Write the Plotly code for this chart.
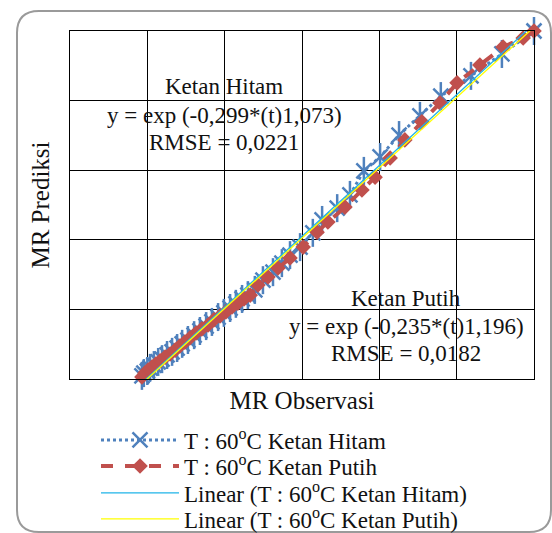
import numpy as np
import plotly.graph_objects as go

# Observed vs predicted moisture ratio (MR), drying at 60 °C
obs_hitam = [1.000, 0.917, 0.837, 0.759, 0.705, 0.651, 0.602, 0.560, 0.524, 0.491,
             0.452, 0.428, 0.395, 0.369, 0.348, 0.325, 0.299, 0.278, 0.260, 0.245,
             0.229, 0.214, 0.198, 0.183, 0.167, 0.152, 0.136, 0.121, 0.105, 0.090,
             0.077, 0.064, 0.051, 0.038, 0.028, 0.017, 0.007, 0.000, -0.009, -0.014]
pred_hitam = [1.000, 0.934, 0.871, 0.813, 0.756, 0.701, 0.638, 0.598, 0.529, 0.491,
              0.457, 0.420, 0.379, 0.356, 0.333, 0.307, 0.284, 0.256, 0.241, 0.230,
              0.216, 0.204, 0.190, 0.178, 0.164, 0.152, 0.138, 0.126, 0.112, 0.101,
              0.089, 0.078, 0.069, 0.057, 0.049, 0.040, 0.032, 0.023, 0.017, 0.009]

obs_putih = [1.000, 0.972, 0.920, 0.860, 0.801, 0.757, 0.710, 0.666, 0.628, 0.589,
             0.555, 0.511, 0.467, 0.439, 0.403, 0.369, 0.338, 0.312, 0.286, 0.266,
             0.250, 0.234, 0.219, 0.203, 0.188, 0.172, 0.157, 0.141, 0.126, 0.110,
             0.097, 0.084, 0.072, 0.059, 0.046, 0.033, 0.022, 0.012, 0.002, -0.006, -0.014]
pred_putih = [1.000, 0.980, 0.954, 0.902, 0.851, 0.793, 0.739, 0.687, 0.635, 0.580,
              0.543, 0.494, 0.451, 0.422, 0.379, 0.348, 0.319, 0.293, 0.270, 0.241,
              0.230, 0.218, 0.207, 0.193, 0.181, 0.170, 0.155, 0.144, 0.132, 0.118,
              0.106, 0.095, 0.083, 0.072, 0.063, 0.052, 0.043, 0.034, 0.026, 0.017, 0.006]

name_hitam = "T : 60<sup>o</sup>C Ketan Hitam"
name_putih = "T : 60<sup>o</sup>C Ketan Putih"
model_hitam = ["Ketan Hitam", "y = exp (-0,299*(t)1,073)", "RMSE = 0,0221"]
model_putih = ["Ketan Putih", "y = exp (-0,235*(t)1,196)", "RMSE = 0,0182"]

W, H = 552, 533
L, R, T, B = 70, 534, 31, 379
FONT = "Liberation Serif"
BLUE = "#4F81BD"
RED = "#C0504D"
TXT = 23


def px(x):
    return (x - L) / (R - L)


def py(y):
    return (B - y) / (B - T)


fig = go.Figure()

# Ketan Hitam: dotted line with star markers (X plus vertical bar)
fig.add_trace(go.Scatter(
    x=obs_hitam, y=pred_hitam, mode="lines+markers", name=name_hitam,
    legend="legend", cliponaxis=False,
    line=dict(color=BLUE, width=3, dash="dot"),
    marker=dict(symbol="x-thin-open", size=15, color=BLUE,
                line=dict(color=BLUE, width=2.5)),
))
fig.add_trace(go.Scatter(
    x=obs_hitam, y=pred_hitam, mode="markers", showlegend=False,
    cliponaxis=False, hoverinfo="skip",
    marker=dict(symbol="line-ns-open", size=20, color=BLUE,
                line=dict(color=BLUE, width=2.5)),
))

# Ketan Putih: dashed line with diamond markers
fig.add_trace(go.Scatter(
    x=obs_putih, y=pred_putih, mode="lines+markers", name=name_putih,
    legend="legend2", cliponaxis=False,
    line=dict(color=RED, width=4, dash="dash"),
    marker=dict(symbol="diamond", size=12, color=RED),
))

# Linear trendlines fitted to each series
for obs, pred, color, label, lg in [
    (obs_hitam, pred_hitam, "#1FB4E8", "Linear (" + name_hitam + ")", "legend3"),
    (obs_putih, pred_putih, "#FFFF00", "Linear (" + name_putih + ")", "legend4"),
]:
    slope, icpt = np.polyfit(obs, pred, 1)
    xs = np.array([min(obs), max(obs)])
    fig.add_trace(go.Scatter(
        x=xs, y=slope * xs + icpt, mode="lines", name=label, legend=lg,
        line=dict(color=color, width=1.3), cliponaxis=False,
    ))

# Model annotations
for lines, cx, ys in [(model_hitam, 224, [86, 115, 142]),
                      (model_putih, 406, [298, 326, 353])]:
    for txt, yy in zip(lines, ys):
        fig.add_annotation(x=px(cx), y=py(yy), xref="paper", yref="paper",
                           xanchor="center", yanchor="middle",
                           text=txt, showarrow=False,
                           font=dict(family=FONT, size=TXT, color="#111"))

# Rounded outer frame
x0, x1, y0, y1, r = px(17), px(551), py(11), py(532), 22
rx, ry = r / (R - L), r / (B - T)
frame = (f"M {x0 + rx} {y0} L {x1 - rx} {y0} Q {x1} {y0} {x1} {y0 - ry} "
         f"L {x1} {y1 + ry} Q {x1} {y1} {x1 - rx} {y1} "
         f"L {x0 + rx} {y1} Q {x0} {y1} {x0} {y1 + ry} "
         f"L {x0} {y0 - ry} Q {x0} {y0} {x0 + rx} {y0} Z")
fig.add_shape(type="path", path=frame, xref="paper", yref="paper",
              line=dict(color="#9a9a9a", width=2), layer="below")

axis_common = dict(showticklabels=False, ticks="", showgrid=True,
                   gridcolor="black", gridwidth=1.3, zeroline=False,
                   showline=True, linecolor="black", linewidth=1.3,
                   mirror=True, dtick=0.2)


def legend_at(row_y):
    return dict(x=px(96), y=py(row_y), xanchor="left", yanchor="middle",
                font=dict(family=FONT, size=TXT, color="#111"),
                bgcolor="rgba(0,0,0,0)", itemwidth=78)


fig.update_layout(
    width=W, height=H,
    margin=dict(l=L, r=W - R, t=T, b=H - B, autoexpand=False),
    paper_bgcolor="white", plot_bgcolor="white",
    font=dict(family=FONT, size=TXT, color="#111"),
    xaxis=dict(range=[-0.2, 1.0], tick0=-0.2,
               title=dict(text="MR Observasi",
                          font=dict(family=FONT, size=25), standoff=12),
               **axis_common),
    yaxis=dict(range=[0, 1.0], tick0=0,
               title=dict(text="MR Prediksi",
                          font=dict(family=FONT, size=25), standoff=12),
               **axis_common),
    showlegend=True,
    legend=legend_at(440),
    legend2=legend_at(466),
    legend3=legend_at(493),
    legend4=legend_at(519),
)

fig.write_html("out.html")
